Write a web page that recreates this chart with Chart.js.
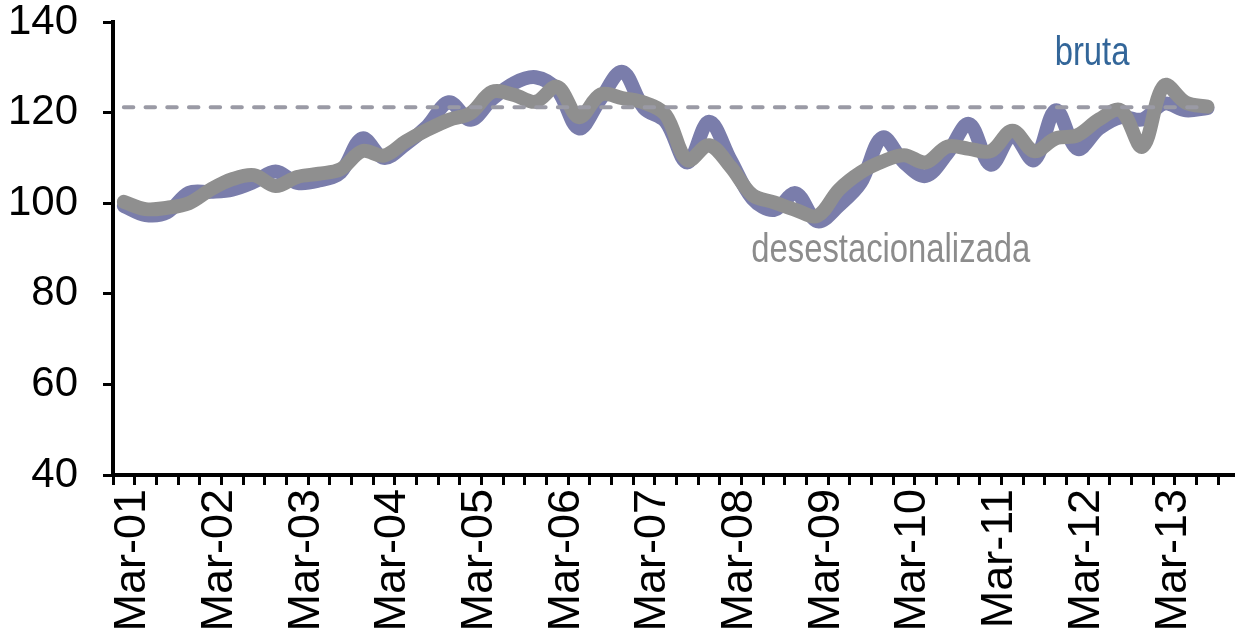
<!DOCTYPE html>
<html lang="es">
<head>
  <meta charset="UTF-8" />
  <title>bruta / desestacionalizada</title>
  <script src="https://cdn.jsdelivr.net/npm/chart.js"></script>
  <style>
    html, body { margin: 0; padding: 0; background: white; overflow: hidden; }
    #wrap { width: 1240px; height: 635px; position: relative; }
  </style>
</head>
<body>
  <div id="wrap"><canvas id="grafico"></canvas></div>

  <script>
    // trimestres (el ultimo queda vacio, como en el original)
    const trimestres = [
      'Mar-01','Jun-01','Sep-01','Dec-01','Mar-02','Jun-02','Sep-02','Dec-02',
      'Mar-03','Jun-03','Sep-03','Dec-03','Mar-04','Jun-04','Sep-04','Dec-04',
      'Mar-05','Jun-05','Sep-05','Dec-05','Mar-06','Jun-06','Sep-06','Dec-06',
      'Mar-07','Jun-07','Sep-07','Dec-07','Mar-08','Jun-08','Sep-08','Dec-08',
      'Mar-09','Jun-09','Sep-09','Dec-09','Mar-10','Jun-10','Sep-10','Dec-10',
      'Mar-11','Jun-11','Sep-11','Dec-11','Mar-12','Jun-12','Sep-12','Dec-12',
      'Mar-13','Jun-13','Sep-13','Dec-13'
    ];

    const bruta = [
      99.4, 97.4, 98.0, 102.3, 102.5, 103.0, 104.7, 107.0,
      104.5, 105.0, 106.8, 114.3, 110.0, 113.0, 117.0, 122.3,
      118.4, 123.0, 126.5, 127.8, 125.0, 116.5, 123.0, 129.0,
      121.0, 118.0, 109.0, 118.0, 109.5, 101.0, 98.5, 102.2,
      96.0, 99.5, 104.5, 114.5, 109.0, 106.0, 111.0, 117.5,
      108.5, 115.0, 109.5, 120.5, 112.0, 116.5, 119.0, 118.5,
      122.0, 120.5, 121.0
    ];

    const desestacionalizada = [
      100.3, 98.7, 99.0, 100.0, 103.0, 105.3, 106.2, 103.8,
      105.8, 106.5, 107.5, 111.5, 110.5, 113.6, 116.2, 118.4,
      119.9, 124.6, 123.9, 122.4, 125.7, 119.0, 124.0, 123.2,
      122.2, 119.5, 109.5, 112.8, 108.0, 101.8, 100.2, 98.5,
      97.2, 103.0, 106.8, 109.2, 110.6, 109.0, 112.5, 112.0,
      111.5, 116.0, 111.5, 114.3, 115.0, 118.5, 120.5, 112.5,
      126.0, 122.2, 121.3
    ];

    const promedio = 121.2;
    const lineaPromedio = bruta.map(() => promedio);

    const yTicks = [40, 60, 80, 100, 120, 140];

    // textos sobre el grafico: [texto, indice, valor, color]
    const rotulos = [
      ['bruta', 43.45, 130.5, '#336699'],
      ['desestacionalizada', 29.45, 87, '#8c8c8c']
    ];

    const rotulosPlugin = {
      id: 'rotulos',
      afterDraw(chart) {
        const ctx = chart.ctx;
        const x = chart.scales.x, y = chart.scales.y;
        ctx.save();
        ctx.font = '40px "Liberation Sans", Arial, sans-serif';
        ctx.textBaseline = 'alphabetic';
        ctx.textAlign = 'left';
        rotulos.forEach(([txt, i, v, color]) => {
          const px = x.getPixelForValue(i) - x.width / trimestres.length / 2;
          const py = y.getPixelForValue(v);
          ctx.save();
          ctx.translate(px, py);
          ctx.scale(0.82, 1); // letra estrecha
          ctx.fillStyle = color;
          ctx.fillText(txt, 0, 0);
          ctx.restore();
        });
        ctx.restore();
      }
    };

    const fuenteY = { family: '"Liberation Sans", Arial, sans-serif', size: 42, lineHeight: 1 };
    const fuenteX = { family: '"Liberation Sans", Arial, sans-serif', size: 45, lineHeight: 1 };

    new Chart(document.getElementById('grafico'), {
      type: 'line',
      data: {
        labels: trimestres,
        datasets: [
          {
            label: 'promedio',
            data: lineaPromedio,
            borderColor: '#9a9aa5',
            borderWidth: 4,
            borderDash: [9.5, 12.2],
            borderCapStyle: 'round',
            pointRadius: 0,
            tension: 0
          },
          {
            label: 'desestacionalizada',
            data: desestacionalizada,
            borderColor: '#8f8f8f',
            borderWidth: 14,
            borderCapStyle: 'round',
            borderJoinStyle: 'round',
            pointRadius: 0,
            tension: 0.35
          },
          {
            label: 'bruta',
            data: bruta,
            borderColor: '#7a7dab',
            borderWidth: 14,
            borderCapStyle: 'round',
            borderJoinStyle: 'round',
            pointRadius: 0,
            tension: 0.35
          }
        ]
      },
      options: {
        responsive: true,
        maintainAspectRatio: false,
        animation: false,
        layout: { padding: { top: 22, left: 0, right: 0, bottom: 0 } },
        plugins: { legend: { display: false }, tooltip: { enabled: false } },
        scales: {
          x: {
            offset: true,
            grid: {
              offset: true,
              drawOnChartArea: false,
              tickLength: 10,
              tickWidth: 3,
              tickColor: '#000'
            },
            border: { color: '#000', width: 4 },
            ticks: {
              autoSkip: false,
              maxRotation: 90,
              minRotation: 90,
              padding: 4,
              labelOffset: 9,
              color: '#000',
              font: fuenteX,
              callback: (v, i) => trimestres[i].startsWith('Mar') ? trimestres[i] : ''
            },
            afterFit(s) { s.height = 160; s.paddingLeft = 0; s.paddingRight = 0; }
          },
          y: {
            min: 40,
            max: 140,
            afterBuildTicks(s) { s.ticks = yTicks.map(v => ({ value: v })); },
            grid: {
              drawOnChartArea: false,
              tickLength: 10,
              tickWidth: 3,
              tickColor: '#000'
            },
            border: { color: '#000', width: 4 },
            ticks: { padding: 25, color: '#000', font: fuenteY },
            afterFit(s) { s.width = 113; s.paddingTop = 0; s.paddingBottom = 0; }
          }
        }
      },
      plugins: [rotulosPlugin]
    });
  </script>
</body>
</html>
